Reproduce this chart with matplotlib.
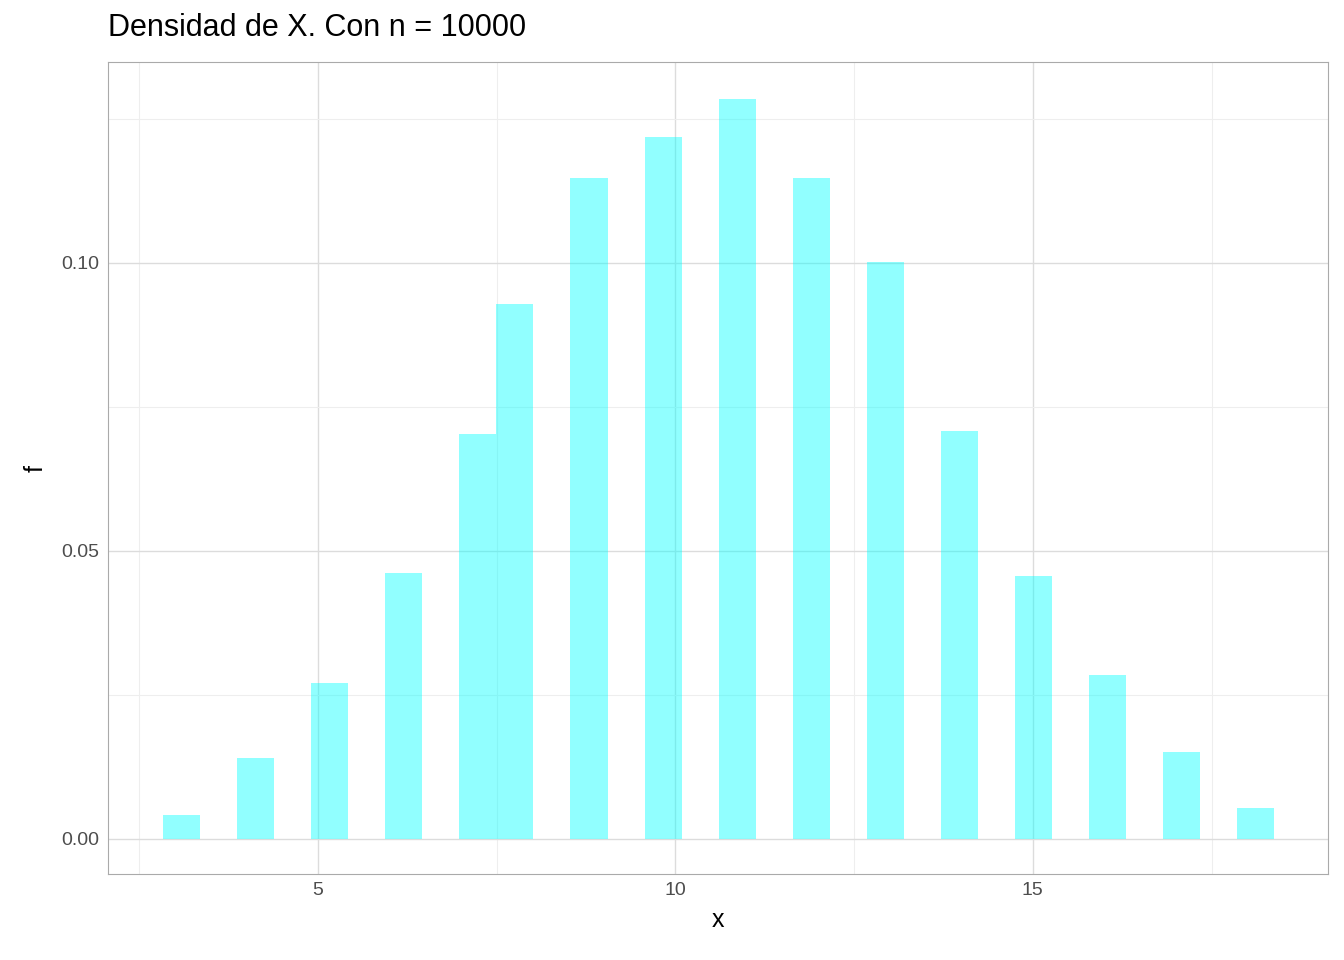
import numpy as np
import matplotlib.pyplot as plt

plt.rcParams['font.family'] = ['Liberation Sans', 'DejaVu Sans']

binwidth = 0.5181
start = 2.832
# occupied bin indices and density heights
bin_idx = [0, 2, 4, 6, 8, 9, 11, 13, 15, 17, 19, 21, 23, 25, 27, 29]
dens = [0.0042, 0.0141, 0.0271, 0.0462, 0.0703, 0.0929, 0.1148, 0.1219,
        0.1285, 0.1148, 0.1002, 0.0708, 0.0457, 0.0285, 0.0151, 0.0054]

lefts = [start + k * binwidth for k in bin_idx]

fig = plt.figure(figsize=(13.44, 9.6), dpi=100)
ax = fig.add_axes([108 / 1344, 1 - 874 / 960, 1220 / 1344, 812 / 960])

ax.bar(lefts, dens, width=binwidth, align='edge', color='cyan', alpha=0.43, zorder=3)

ax.set_xlim(2.06, 19.13)
ax.set_ylim(-0.0061, 0.1349)
ax.set_xticks([5, 10, 15])
ax.set_xticks([2.5, 7.5, 12.5, 17.5], minor=True)
ax.set_yticks([0, 0.05, 0.10])
ax.set_yticklabels(['0.00', '0.05', '0.10'])
ax.set_yticks([0.025, 0.075, 0.125], minor=True)
ax.grid(which='major', color='#dcdcdc', lw=1.0, zorder=0)
ax.grid(which='minor', color='#eeeeee', lw=0.8, zorder=0)
ax.tick_params(which='both', length=0)
ax.tick_params(labelsize=14, colors='#4d4d4d', pad=6)
for s in ax.spines.values():
    s.set_color('#aaaaaa')

ax.set_xlabel('x', fontsize=18, labelpad=6)
ax.set_ylabel('f', fontsize=18, labelpad=10)
fig.text(108 / 1344, 1 - 28 / 960, 'Densidad de X. Con n = 10000', fontsize=22, va='center')

plt.savefig('out.png')
